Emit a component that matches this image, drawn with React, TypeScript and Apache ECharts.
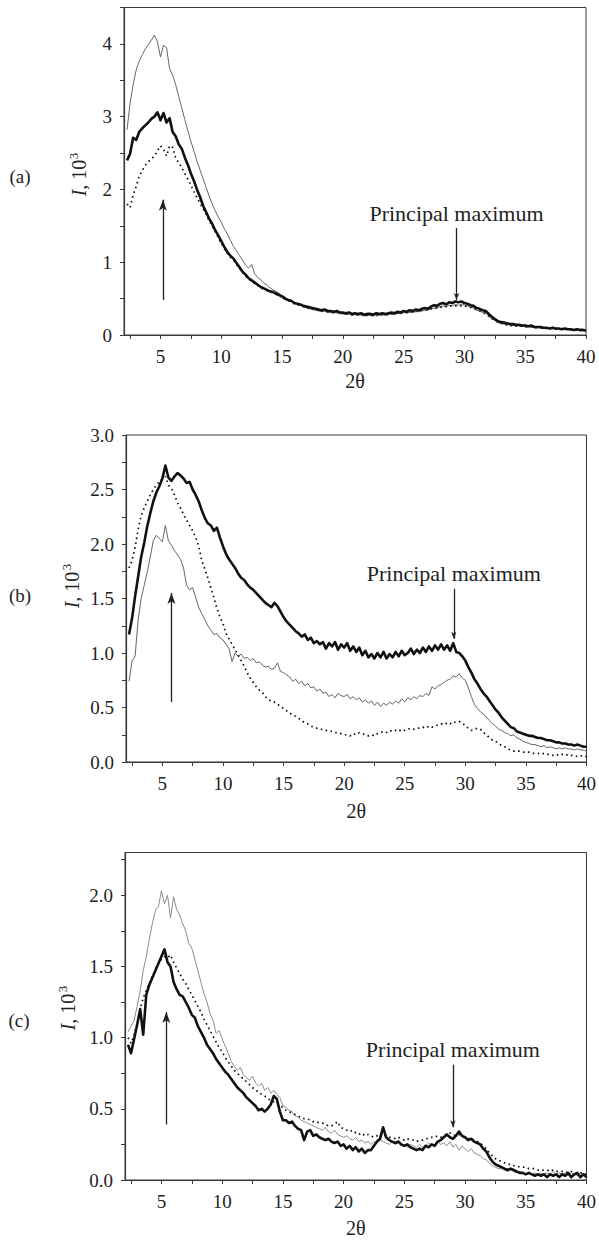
import React, { useEffect, useRef } from "react";
import * as echarts from "echarts";

const FONT = '"Liberation Serif", "Times New Roman", serif';

// sampling grid of 2θ (degrees): 2.25 … 40 in 0.25° steps
const X_START = 2.25;
const X_STEP = 0.25;
const X_COUNT = 152;
const X = Array.from({ length: X_COUNT }, (_, i) => +(X_START + X_STEP * i).toFixed(2));

const X_TICKS = [2.5, 5, 7.5, 10, 12.5, 15, 17.5, 20, 22.5, 25, 27.5, 30, 32.5, 35, 37.5, 40];
const X_LABELS = [5, 10, 15, 20, 25, 30, 35, 40];

const A_Y_TICKS = [0, 0.5, 1, 1.5, 2, 2.5, 3, 3.5, 4, 4.5];
const A_Y_LABELS = [0, 1, 2, 3, 4];
const B_Y_TICKS = [0, 0.25, 0.5, 0.75, 1, 1.25, 1.5, 1.75, 2, 2.25, 2.5, 2.75, 3];
const B_Y_LABELS = [0, 0.5, 1, 1.5, 2, 2.5, 3];
const C_Y_TICKS = [0, 0.25, 0.5, 0.75, 1, 1.25, 1.5, 1.75, 2, 2.25];
const C_Y_LABELS = [0, 0.5, 1, 1.5, 2];

// ---------- panel (a), I in 10^3 ----------
const A_THIN = [
  2.82, 3.18, 3.44, 3.64, 3.76, 3.85, 3.93, 3.99,
  4.05, 4.12, 4.03, 3.82, 3.98, 3.95, 3.66, 3.57,
  3.44, 3.28, 3.12, 2.96, 2.81, 2.66, 2.53, 2.39,
  2.27, 2.15, 2.03, 1.91, 1.80, 1.71, 1.62, 1.55,
  1.46, 1.39, 1.30, 1.22, 1.16, 1.09, 1.03, 0.96,
  0.92, 0.97, 0.84, 0.79, 0.76, 0.71, 0.69, 0.65,
  0.62, 0.60, 0.57, 0.54, 0.52, 0.49, 0.47, 0.45,
  0.42, 0.41, 0.39, 0.38, 0.36, 0.35, 0.34, 0.33,
  0.32, 0.33, 0.31, 0.31, 0.30, 0.31, 0.29, 0.29,
  0.28, 0.29, 0.27, 0.28, 0.27, 0.28, 0.26, 0.27,
  0.27, 0.26, 0.28, 0.27, 0.28, 0.27, 0.28, 0.29,
  0.28, 0.30, 0.29, 0.31, 0.30, 0.31, 0.31, 0.32,
  0.32, 0.33, 0.34, 0.34, 0.36, 0.37, 0.37, 0.39,
  0.40, 0.39, 0.41, 0.40, 0.42, 0.41, 0.42, 0.41,
  0.40, 0.38, 0.37, 0.34, 0.33, 0.31, 0.30, 0.26,
  0.22, 0.20, 0.17, 0.16, 0.15, 0.14, 0.14, 0.13,
  0.13, 0.12, 0.12, 0.12, 0.11, 0.12, 0.10, 0.10,
  0.10, 0.09, 0.09, 0.09, 0.09, 0.08, 0.09, 0.08,
  0.08, 0.08, 0.07, 0.07, 0.07, 0.07, 0.06, 0.06,
];
const A_THICK = [
  2.40, 2.49, 2.71, 2.68, 2.79, 2.84, 2.88, 2.92,
  2.97, 3.00, 3.06, 2.95, 3.05, 2.92, 2.98, 2.79,
  2.73, 2.62, 2.56, 2.44, 2.34, 2.22, 2.12, 2.00,
  1.90, 1.78, 1.69, 1.60, 1.53, 1.44, 1.37, 1.29,
  1.21, 1.14, 1.09, 1.05, 0.99, 0.93, 0.87, 0.83,
  0.78, 0.75, 0.72, 0.69, 0.66, 0.64, 0.62, 0.60,
  0.59, 0.57, 0.55, 0.53, 0.50, 0.48, 0.47, 0.44,
  0.43, 0.42, 0.40, 0.39, 0.38, 0.37, 0.36, 0.35,
  0.34, 0.35, 0.33, 0.33, 0.32, 0.33, 0.31, 0.31,
  0.30, 0.31, 0.29, 0.30, 0.29, 0.30, 0.28, 0.29,
  0.29, 0.28, 0.30, 0.29, 0.30, 0.29, 0.30, 0.31,
  0.30, 0.32, 0.31, 0.33, 0.32, 0.34, 0.33, 0.35,
  0.34, 0.36, 0.37, 0.36, 0.39, 0.41, 0.40, 0.43,
  0.44, 0.42, 0.45, 0.44, 0.46, 0.45, 0.46, 0.44,
  0.43, 0.41, 0.40, 0.37, 0.36, 0.34, 0.33, 0.29,
  0.25, 0.22, 0.19, 0.18, 0.17, 0.16, 0.15, 0.15,
  0.14, 0.14, 0.13, 0.13, 0.12, 0.13, 0.11, 0.11,
  0.11, 0.10, 0.10, 0.09, 0.10, 0.09, 0.09, 0.08,
  0.09, 0.08, 0.08, 0.07, 0.08, 0.07, 0.07, 0.06,
];
const A_DOT = [
  1.80, 1.75, 1.92, 2.04, 2.18, 2.26, 2.33, 2.38,
  2.42, 2.46, 2.53, 2.60, 2.55, 2.46, 2.60, 2.58,
  2.43, 2.37, 2.30, 2.22, 2.14, 2.06, 1.97, 1.89,
  1.81, 1.74, 1.66, 1.57, 1.50, 1.42, 1.34, 1.26,
  1.19, 1.12, 1.07, 1.03, 0.97, 0.92, 0.86, 0.81,
  0.77, 0.74, 0.71, 0.68, 0.65, 0.63, 0.61, 0.59,
  0.58, 0.56, 0.54, 0.52, 0.49, 0.47, 0.46, 0.43,
  0.42, 0.40, 0.39, 0.38, 0.36, 0.36, 0.35, 0.34,
  0.33, 0.33, 0.32, 0.31, 0.31, 0.31, 0.30, 0.30,
  0.29, 0.29, 0.28, 0.28, 0.28, 0.28, 0.27, 0.27,
  0.27, 0.27, 0.27, 0.27, 0.28, 0.28, 0.28, 0.29,
  0.29, 0.30, 0.30, 0.31, 0.31, 0.32, 0.32, 0.33,
  0.33, 0.34, 0.35, 0.35, 0.36, 0.37, 0.37, 0.38,
  0.39, 0.39, 0.40, 0.40, 0.40, 0.40, 0.40, 0.40,
  0.39, 0.38, 0.36, 0.35, 0.33, 0.31, 0.29, 0.26,
  0.23, 0.20, 0.18, 0.16, 0.15, 0.14, 0.13, 0.13,
  0.12, 0.12, 0.12, 0.11, 0.11, 0.11, 0.10, 0.10,
  0.10, 0.09, 0.09, 0.09, 0.09, 0.08, 0.08, 0.08,
  0.08, 0.07, 0.07, 0.07, 0.07, 0.06, 0.06, 0.06,
];

// ---------- panel (b) ----------
const B_THIN = [
  0.74, 0.93, 0.97, 1.30, 1.50, 1.62, 1.74, 1.88,
  2.03, 2.08, 2.05, 2.02, 2.17, 2.03, 1.99, 1.94,
  1.90, 1.86, 1.78, 1.62, 1.58, 1.60, 1.51, 1.42,
  1.36, 1.31, 1.25, 1.21, 1.17, 1.18, 1.14, 1.12,
  1.08, 1.04, 0.92, 1.00, 0.97, 0.99, 0.95, 0.96,
  0.93, 0.95, 0.91, 0.92, 0.89, 0.87, 0.88, 0.85,
  0.86, 0.91, 0.83, 0.82, 0.80, 0.78, 0.74, 0.76,
  0.72, 0.74, 0.70, 0.72, 0.68, 0.69, 0.65, 0.67,
  0.63, 0.64, 0.60, 0.62, 0.59, 0.63, 0.61, 0.60,
  0.62, 0.58, 0.60, 0.57, 0.59, 0.55, 0.57, 0.54,
  0.56, 0.52, 0.55, 0.51, 0.54, 0.52, 0.55, 0.53,
  0.56, 0.54, 0.58, 0.55, 0.59, 0.57, 0.60, 0.58,
  0.61, 0.60, 0.63, 0.61, 0.69, 0.67, 0.70, 0.71,
  0.73, 0.75, 0.76, 0.79, 0.78, 0.81, 0.77, 0.75,
  0.68, 0.60, 0.53, 0.49, 0.46, 0.44, 0.41, 0.38,
  0.35, 0.33, 0.30, 0.29, 0.27, 0.26, 0.24, 0.25,
  0.22, 0.21, 0.19, 0.18, 0.17, 0.16, 0.16, 0.15,
  0.14, 0.15, 0.13, 0.14, 0.13, 0.12, 0.13, 0.12,
  0.13, 0.12, 0.12, 0.11, 0.12, 0.11, 0.11, 0.10,
];
const B_THICK = [
  1.17, 1.32, 1.52, 1.70, 1.88, 2.01, 2.16, 2.28,
  2.39, 2.47, 2.53, 2.60, 2.72, 2.61, 2.58, 2.62,
  2.65, 2.63, 2.60, 2.56, 2.57, 2.50, 2.45, 2.39,
  2.31, 2.24, 2.19, 2.17, 2.12, 2.15, 2.06, 1.98,
  1.91, 1.86, 1.82, 1.78, 1.73, 1.69, 1.67, 1.63,
  1.60, 1.58, 1.55, 1.52, 1.49, 1.46, 1.44, 1.42,
  1.46, 1.43, 1.38, 1.33, 1.29, 1.26, 1.23, 1.20,
  1.18, 1.15, 1.17, 1.12, 1.14, 1.09, 1.11, 1.08,
  1.10, 1.04, 1.09, 1.06, 1.10, 1.03, 1.08, 1.05,
  1.09, 1.02, 1.06, 1.01, 1.05, 0.98, 1.02, 0.96,
  0.99, 0.95, 1.00, 0.96, 1.01, 0.95, 0.99, 0.96,
  1.01, 0.97, 1.02, 0.98, 1.00, 1.04, 0.99, 1.03,
  1.00, 1.05, 1.01, 1.06, 1.02, 1.07, 1.03, 1.08,
  1.03, 1.07, 1.02, 1.09, 1.01, 1.00, 0.97, 0.93,
  0.87, 0.82, 0.76, 0.72, 0.67, 0.63, 0.60, 0.56,
  0.52, 0.48, 0.45, 0.41, 0.38, 0.35, 0.32, 0.31,
  0.28, 0.27, 0.26, 0.25, 0.24, 0.24, 0.23, 0.22,
  0.22, 0.21, 0.20, 0.20, 0.19, 0.18, 0.18, 0.17,
  0.17, 0.16, 0.16, 0.15, 0.16, 0.15, 0.14, 0.14,
];
const B_DOT = [
  1.78, 1.85, 1.97, 2.13, 2.26, 2.33, 2.39, 2.45,
  2.50, 2.54, 2.57, 2.60, 2.62, 2.54, 2.51, 2.45,
  2.38, 2.33, 2.27, 2.22, 2.17, 2.12, 2.06, 1.98,
  1.85, 1.77, 1.69, 1.60, 1.51, 1.41, 1.33, 1.27,
  1.18, 1.13, 1.08, 1.03, 0.98, 0.93, 0.88, 0.82,
  0.77, 0.73, 0.69, 0.66, 0.64, 0.60, 0.57, 0.56,
  0.55, 0.53, 0.51, 0.49, 0.47, 0.45, 0.43, 0.42,
  0.40, 0.38, 0.36, 0.35, 0.33, 0.32, 0.31, 0.30,
  0.30, 0.29, 0.29, 0.28, 0.27, 0.27, 0.26, 0.25,
  0.25, 0.24, 0.26, 0.25, 0.27, 0.26, 0.25, 0.24,
  0.25, 0.24, 0.26, 0.27, 0.28, 0.27, 0.29, 0.28,
  0.29, 0.28, 0.30, 0.29, 0.30, 0.31, 0.30, 0.31,
  0.31, 0.32, 0.31, 0.33, 0.32, 0.33, 0.34, 0.35,
  0.34, 0.36, 0.35, 0.37, 0.36, 0.37, 0.36, 0.33,
  0.31, 0.29, 0.30, 0.31, 0.30, 0.27, 0.25, 0.22,
  0.20, 0.19, 0.17, 0.15, 0.14, 0.12, 0.11, 0.10,
  0.10, 0.10, 0.09, 0.09, 0.09, 0.08, 0.08, 0.08,
  0.07, 0.08, 0.07, 0.07, 0.06, 0.07, 0.06, 0.07,
  0.06, 0.07, 0.06, 0.06, 0.05, 0.06, 0.05, 0.05,
];

// ---------- panel (c) ----------
const C_THIN = [
  1.04, 1.08, 1.12, 1.22, 1.33, 1.47, 1.57, 1.69,
  1.80, 1.89, 1.92, 2.03, 1.94, 2.00, 1.84, 1.99,
  1.90, 1.86, 1.80, 1.75, 1.66, 1.63, 1.55, 1.47,
  1.39, 1.31, 1.25, 1.17, 1.12, 1.03, 1.05, 0.99,
  0.94, 0.89, 0.83, 0.80, 0.77, 0.79, 0.74, 0.72,
  0.70, 0.73, 0.68, 0.66, 0.68, 0.63, 0.65, 0.61,
  0.63, 0.60, 0.58, 0.52, 0.51, 0.49, 0.48, 0.45,
  0.44, 0.42, 0.41, 0.40, 0.39, 0.38, 0.37, 0.36,
  0.35, 0.37, 0.34, 0.33, 0.35, 0.32, 0.31, 0.30,
  0.31, 0.29, 0.28, 0.30, 0.27, 0.28, 0.26, 0.27,
  0.25, 0.27, 0.26, 0.28, 0.27, 0.26, 0.25, 0.27,
  0.25, 0.26, 0.24, 0.25, 0.23, 0.25, 0.24, 0.23,
  0.25, 0.23, 0.24, 0.26, 0.24, 0.25, 0.27, 0.25,
  0.26, 0.24, 0.27, 0.23, 0.25, 0.21, 0.24, 0.22,
  0.20, 0.22, 0.19, 0.18, 0.17, 0.15, 0.14, 0.12,
  0.10, 0.09, 0.08, 0.08, 0.07, 0.06, 0.07, 0.06,
  0.05, 0.06, 0.05, 0.04, 0.05, 0.04, 0.05, 0.04,
  0.05, 0.04, 0.05, 0.04, 0.06, 0.04, 0.05, 0.04,
  0.05, 0.03, 0.05, 0.04, 0.03, 0.05, 0.03, 0.03,
];
const C_THICK = [
  0.95, 0.89, 0.99, 1.09, 1.20, 1.02, 1.30, 1.37,
  1.42, 1.47, 1.52, 1.57, 1.62, 1.53, 1.50, 1.39,
  1.34, 1.30, 1.29, 1.25, 1.21, 1.16, 1.14, 1.08,
  1.04, 1.00, 0.95, 0.92, 0.89, 0.85, 0.82, 0.79,
  0.76, 0.74, 0.71, 0.68, 0.65, 0.63, 0.61, 0.58,
  0.56, 0.54, 0.52, 0.49, 0.50, 0.48, 0.50, 0.53,
  0.59, 0.57, 0.48, 0.42, 0.42, 0.40, 0.41, 0.38,
  0.36, 0.35, 0.28, 0.34, 0.35, 0.31, 0.32, 0.30,
  0.29, 0.28, 0.29, 0.27, 0.26, 0.27, 0.24, 0.25,
  0.22, 0.24, 0.21, 0.23, 0.20, 0.22, 0.19, 0.21,
  0.21, 0.24, 0.27, 0.29, 0.37, 0.30, 0.28, 0.27,
  0.26, 0.27, 0.25, 0.24, 0.25, 0.23, 0.22, 0.21,
  0.22, 0.21, 0.24, 0.23, 0.25, 0.24, 0.27, 0.28,
  0.30, 0.32, 0.30, 0.29, 0.31, 0.34, 0.31, 0.30,
  0.28, 0.29, 0.27, 0.26, 0.25, 0.22, 0.20, 0.16,
  0.13, 0.11, 0.10, 0.09, 0.08, 0.07, 0.08, 0.07,
  0.06, 0.05, 0.05, 0.04, 0.05, 0.04, 0.03, 0.04,
  0.03, 0.04, 0.02, 0.04, 0.03, 0.04, 0.02, 0.04,
  0.03, 0.05, 0.02, 0.04, 0.05, 0.02, 0.04, 0.02,
];
const C_DOT = [
  1.00, 0.96, 1.02, 1.10, 1.20, 1.28, 1.33, 1.38,
  1.43, 1.48, 1.52, 1.55, 1.57, 1.56, 1.58, 1.53,
  1.49, 1.45, 1.41, 1.38, 1.34, 1.30, 1.26, 1.22,
  1.18, 1.13, 1.09, 1.05, 1.01, 0.97, 0.93, 0.90,
  0.86, 0.83, 0.80, 0.77, 0.75, 0.73, 0.71, 0.69,
  0.67, 0.65, 0.63, 0.62, 0.60, 0.59, 0.57, 0.56,
  0.55, 0.54, 0.52, 0.51, 0.49, 0.48, 0.47, 0.46,
  0.45, 0.44, 0.43, 0.43, 0.42, 0.41, 0.41, 0.40,
  0.40, 0.39, 0.38, 0.38, 0.39, 0.41, 0.37, 0.36,
  0.35, 0.34, 0.35, 0.33, 0.32, 0.33, 0.31, 0.32,
  0.31, 0.30, 0.31, 0.32, 0.33, 0.31, 0.30, 0.30,
  0.29, 0.30, 0.29, 0.28, 0.29, 0.28, 0.28, 0.27,
  0.28, 0.28, 0.29, 0.29, 0.30, 0.30, 0.31, 0.30,
  0.31, 0.32, 0.33, 0.32, 0.31, 0.32, 0.31, 0.30,
  0.29, 0.29, 0.28, 0.27, 0.26, 0.24, 0.22, 0.19,
  0.17, 0.15, 0.14, 0.13, 0.12, 0.11, 0.11, 0.10,
  0.10, 0.09, 0.09, 0.09, 0.08, 0.08, 0.08, 0.07,
  0.07, 0.07, 0.07, 0.06, 0.07, 0.06, 0.06, 0.06,
  0.06, 0.05, 0.06, 0.05, 0.05, 0.05, 0.05, 0.04,
];

// annotation arrows: [x, yFrom, yTo]
const A_ARROW = [5.2, 0.48, 1.86];
const A_PRINCIPAL = [29.35, 1.47, 0.48];
const B_ARROW = [5.75, 0.55, 1.55];
const B_PRINCIPAL = [29.05, 1.59, 1.13];
const C_ARROW = [5.4, 0.39, 1.18];
const C_PRINCIPAL = [29.0, 0.81, 0.37];

const PANEL_NAMES = ["(a)", "(b)", "(c)"];
const PRINCIPAL_TEXT = "Principal maximum";

const INK = "#222";
const AXIS = "#3a3a3a";

const App: React.FC = () => {
  const ref = useRef<HTMLDivElement>(null);

  useEffect(() => {
    if (!ref.current) return;
    const chart = echarts.init(ref.current, undefined, { renderer: "svg" });

    const panels = [
      {
        grid: { left: 124, top: 7.5, width: 462, height: 327.5 },
        yMax: 4.5, yTicks: A_Y_TICKS, yLabels: A_Y_LABELS, dec: 0,
        thin: A_THIN, thick: A_THICK, dot: A_DOT, thinColor: "#666",
        arrow: A_ARROW, principal: A_PRINCIPAL, nameGap: 36,
        letter: { x: 20, y: 176 }, yName: { x: 79, y: 178 }, sup: { x: 73, y: 156 },
      },
      {
        grid: { left: 126, top: 435, width: 462, height: 327 },
        yMax: 3, yTicks: B_Y_TICKS, yLabels: B_Y_LABELS, dec: 1,
        thin: B_THIN, thick: B_THICK, dot: B_DOT, thinColor: "#666",
        arrow: B_ARROW, principal: B_PRINCIPAL, nameGap: 39,
        letter: { x: 20, y: 595 }, yName: { x: 72, y: 590 }, sup: { x: 66, y: 567 },
      },
      {
        grid: { left: 125, top: 852.5, width: 462, height: 327.5 },
        yMax: 2.3, yTicks: C_Y_TICKS, yLabels: C_Y_LABELS, dec: 1,
        thin: C_THIN, thick: C_THICK, dot: C_DOT, thinColor: "#8c8c8c",
        arrow: C_ARROW, principal: C_PRINCIPAL, nameGap: 38,
        letter: { x: 19, y: 1020 }, yName: { x: 68, y: 1012 }, sup: { x: 62, y: 989 },
      },
    ];

    const grids: any[] = [];
    const xAxes: any[] = [];
    const yAxes: any[] = [];
    const series: any[] = [];
    const graphic: any[] = [];

    panels.forEach((p, i) => {
      grids.push({
        ...p.grid,
        show: true,
        borderColor: AXIS,
        borderWidth: 1,
        backgroundColor: "transparent",
        containLabel: false,
      });
      xAxes.push({
        type: "value",
        gridIndex: i,
        min: 2,
        max: 40,
        axisLine: { show: true, onZero: false, lineStyle: { color: AXIS, width: 1.2 } },
        axisTick: { show: true, inside: false, length: 4, customValues: X_TICKS, lineStyle: { color: AXIS, width: 1 } },
        axisLabel: {
          customValues: X_LABELS,
          margin: 12,
          fontFamily: FONT,
          fontSize: 19,
          color: INK,
        },
        splitLine: { show: false },
        name: "2θ",
        nameLocation: "middle",
        nameGap: p.nameGap,
        nameTextStyle: { fontFamily: FONT, fontSize: 20, color: INK },
      });
      yAxes.push({
        type: "value",
        gridIndex: i,
        min: 0,
        max: p.yMax,
        axisLine: { show: true, onZero: false, lineStyle: { color: AXIS, width: 1.2 } },
        axisTick: { show: true, inside: false, length: 4, customValues: p.yTicks, lineStyle: { color: AXIS, width: 1 } },
        axisLabel: {
          customValues: p.yLabels,
          margin: 12,
          fontFamily: FONT,
          fontSize: 19,
          color: INK,
          formatter: (v: number) => v.toFixed(p.dec),
        },
        splitLine: { show: false },
      });

      const toPairs = (arr: number[]) => arr.map((v, k) => [X[k], v]);

      series.push({
        type: "line",
        xAxisIndex: i,
        yAxisIndex: i,
        data: toPairs(p.thin),
        showSymbol: false,
        silent: true,
        lineStyle: { color: p.thinColor, width: 1 },
        z: 2,
      });
      series.push({
        type: "line",
        xAxisIndex: i,
        yAxisIndex: i,
        data: toPairs(p.dot),
        showSymbol: false,
        silent: true,
        lineStyle: { color: "#111", width: 1.7, type: [1.6, 3.4] },
        z: 3,
      });
      series.push({
        type: "line",
        xAxisIndex: i,
        yAxisIndex: i,
        data: toPairs(p.thick),
        showSymbol: false,
        silent: true,
        lineStyle: { color: "#111", width: 2.6, join: "round" },
        z: 4,
        markLine: {
          silent: true,
          animation: false,
          symbol: ["none", "none"],
          lineStyle: { color: INK, width: 1.3, type: "solid" },
          label: { show: false },
          emphasis: { disabled: true },
          data: [
            [
              { coord: [p.arrow[0], p.arrow[1]] },
              { coord: [p.arrow[0], p.arrow[2]], symbol: "arrow", symbolSize: [6, 11] },
            ],
            [
              {
                coord: [p.principal[0], p.principal[1]],
                label: {
                  show: true,
                  position: "start",
                  distance: 4,
                  formatter: PRINCIPAL_TEXT,
                  fontFamily: FONT,
                  fontSize: 22,
                  color: INK,
                },
              },
              { coord: [p.principal[0], p.principal[2]], symbol: "arrow", symbolSize: [4, 7] },
            ],
          ],
        },
      });

      graphic.push({
        type: "text",
        x: p.letter.x,
        y: p.letter.y,
        silent: true,
        style: {
          text: PANEL_NAMES[i],
          fontFamily: FONT,
          fontSize: 19,
          fill: INK,
          align: "center",
          verticalAlign: "middle",
          textAlign: "center",
          textVerticalAlign: "middle",
        },
      });
      graphic.push({
        type: "text",
        x: p.yName.x,
        y: p.yName.y,
        rotation: Math.PI / 2,
        silent: true,
        style: {
          text: "{it|I}, 10",
          rich: { it: { fontStyle: "italic", fontFamily: FONT, fontSize: 20, fill: INK } },
          fontFamily: FONT,
          fontSize: 20,
          fill: INK,
          align: "center",
          verticalAlign: "middle",
          textAlign: "center",
          textVerticalAlign: "middle",
        },
      });
      graphic.push({
        type: "text",
        x: p.sup.x,
        y: p.sup.y,
        rotation: Math.PI / 2,
        silent: true,
        style: {
          text: "3",
          fontFamily: FONT,
          fontSize: 13,
          fill: INK,
          align: "center",
          verticalAlign: "middle",
          textAlign: "center",
          textVerticalAlign: "middle",
        },
      });
    });

    chart.setOption({
      animation: false,
      backgroundColor: "#fff",
      grid: grids,
      xAxis: xAxes,
      yAxis: yAxes,
      series,
      graphic,
    });

    return () => chart.dispose();
  }, []);

  return (
    <div
      ref={ref}
      style={{ position: "fixed", left: 0, top: 0, width: 599, height: 1240, background: "#fff" }}
    />
  );
};

export default App;
